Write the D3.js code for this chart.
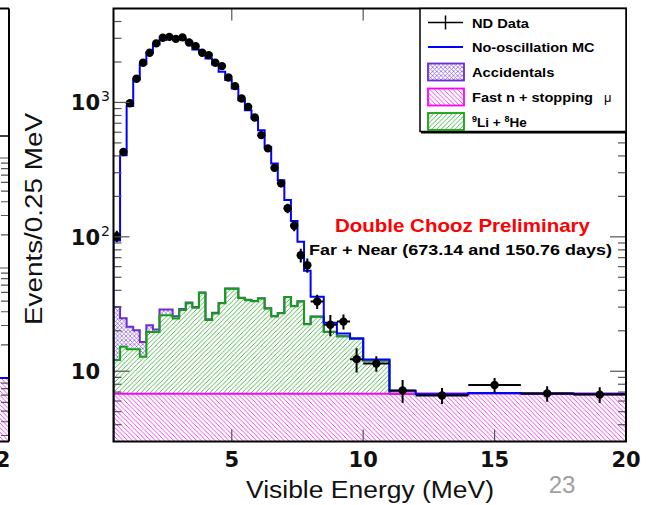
<!DOCTYPE html>
<html><head><meta charset="utf-8">
<script src="https://cdn.jsdelivr.net/npm/d3@7"></script>
<style>body{margin:0;background:#fff} svg{display:block}</style>
</head><body><svg id="c" width="652" height="505"></svg>
<script>
// ---------- data ----------
const binEdges = [0.5,0.75,1,1.25,1.5,1.75,2,2.25,2.5,2.75,3,3.25,3.5,3.75,4,4.25,4.5,4.75,5,5.25,5.5,5.75,6,6.25,6.5,6.75,7,7.25,7.5,7.75,8,8.5,9,9.5,10,11,12,14,16,18,20];
const ndData = [101,428,985,1500,1972,2340,2750,3030,3075,2970,3050,2795,2624,2340,2250,1972,1863,1535,1322,1071,927,773,571,455,326,250,163,121,73,61.5,33,22.2,23.4,12.3,11.4,7.2,6.6,7.9,6.84,6.7];
const ndErr = [10,20,31,39,44,48,52,55,55,55,55,53,51,48,47,44,43,39,36,33,30,28,24,21,18,16,13,11,8.5,7.5,4,4,3,2.5,1.5,1.4,0.9,1.0,0.9,0.9];
const noOscMC = [94,405,940,1483,1920,2356,2704,2910,3030,3050,2970,2825,2480,2356,2125,1918,1690,1466,1271,1040,876,760,622,467,351,264,188,131,92,56,35.8,22.9,19.1,17.5,12.2,7.15,6.75,6.9,6.84,6.75];
const fastN = [6.8,6.8,6.8,6.8,6.8,6.8,6.8,6.8,6.8,6.8,6.8,6.8,6.8,6.8,6.8,6.8,6.8,6.8,6.8,6.8,6.8,6.8,6.8,6.8,6.8,6.8,6.8,6.8,6.8,6.8,6.8,6.8,6.8,6.8,6.8,6.8,6.8,6.85,6.8,6.8];
const liHe = [5.3,8.4,7.8,7.8,6.0,12.8,12.8,19.3,19.3,17.9,21.7,25.2,22.9,31.5,17.3,20.1,25.2,34.2,34.3,28.2,27.0,26.4,28.0,22.5,18.8,20.2,28.8,23.7,26.2,15.6,18.6,12.8,11.4,10.7,5.2,0,0,0,0,0];
const accidentals = [17.9,9.6,6.8,5.6,3.7,2.4,0.8,2.7,2.7,0.9,0.5,0.4,0.4,0.3,0.3,0.3,0.2,0.2,0.2,0.2,0.2,0.1,0.1,0.1,0.1,0.1,0.1,0.1,0.1,0.1,0.1,0.1,0,0,0,0,0,0,0,0];
const xTickValues = [5,10,15,20];
const yTickLabels = [{v:10,base:"10",exp:""},{v:100,base:"10",exp:"2"},{v:1000,base:"10",exp:"3"}];
const legendItems = ["ND Data","No-oscillation MC","Accidentals","Fast n + stopping","Li + He"];

// ---------- setup ----------
const svg = d3.select('#c');
const X0=113.5, X1=626, Y0=8.5, Y1=441.5;
const x = d3.scaleLinear().domain([0.5,20]).range([X0,X1]);
const y = d3.scaleLog().domain([3,5000]).range([Y1,Y0]);
const defs = svg.append('defs');
function hatch(id,color,dirs,s,w){
  const p=defs.append('pattern').attr('id',id).attr('patternUnits','userSpaceOnUse').attr('width',s).attr('height',s);
  let d='';
  if(dirs.includes('/')) d+=`M0,${s} L${s},0 M-1,1 L1,-1 M${s-1},${s+1} L${s+1},${s-1} `;
  if(dirs.includes('\\')) d+=`M0,0 L${s},${s} M-1,${s-1} L1,${s+1} M${s-1},-1 L${s+1},1 `;
  p.append('path').attr('d',d).attr('stroke',color).attr('stroke-width',w).attr('fill','none');
}
hatch('hPink','#f030f0','\\',4.6,0.9);
hatch('hGreen','#3cb03c','/',4.6,0.9);
hatch('hPurple','#8a55e0','/\\',4.2,0.7);
defs.append('clipPath').attr('id','plotClip').append('rect').attr('x',X0).attr('y',Y0).attr('width',X1-X0).attr('height',Y1-Y0);

// stacked table
const rows = binEdges.slice(0,-1).map((e,i)=>({e, fast:fastN[i], li:liHe[i], acc:accidentals[i]}));
const stack = d3.stack().keys(['fast','li','acc'])(rows);
function stepPts(layer){
  const pts = layer.map((d,i)=>({e:binEdges[i], lo:Math.max(d[0],3), hi:Math.max(d[1],3)}));
  const last = pts[pts.length-1];
  pts.push({e:binEdges[binEdges.length-1], lo:last.lo, hi:last.hi});
  return pts;
}
const area = d3.area().x(d=>x(d.e)).y0(d=>y(d.lo)).y1(d=>y(d.hi)).curve(d3.curveStepAfter);
const topLine = d3.line().x(d=>x(d.e)).y(d=>y(d.hi)).curve(d3.curveStepAfter);

const plot = svg.append('g').attr('clip-path','url(#plotClip)');
const layers = [
  {pts:stepPts(stack[0]), fill:'url(#hPink)', stroke:'#ff00ff'},
  {pts:stepPts(stack[1]), fill:'url(#hGreen)', stroke:'#14a014'},
  {pts:stepPts(stack[2]), fill:'url(#hPurple)', stroke:'#6a2fcc'}
];
layers.forEach(l=>plot.append('path').attr('d',area(l.pts)).attr('fill',l.fill).attr('stroke','none'));
[layers[2],layers[1],layers[0]].forEach(l=>plot.append('path').attr('d',topLine(l.pts)).attr('fill','none').attr('stroke',l.stroke).attr('stroke-width',2));

// MC line
const mcPts = [{e:0.5,v:3}].concat(noOscMC.map((v,i)=>({e:binEdges[i],v}))).concat([{e:20,v:noOscMC[noOscMC.length-1]}]);
plot.append('path').attr('d',d3.line().x(d=>x(d.e)).y(d=>y(d.v)).curve(d3.curveStepAfter)(mcPts))
  .attr('fill','none').attr('stroke','#0000ff').attr('stroke-width',2);

// data
const pts = ndData.map((v,i)=>({lo:binEdges[i], hi:binEdges[i+1], c:(binEdges[i]+binEdges[i+1])/2, v, err:ndErr[i]}));
const dg = plot.append('g');
dg.selectAll('line.h').data(pts).join('line').attr('x1',d=>x(d.lo)).attr('x2',d=>x(d.hi)).attr('y1',d=>y(d.v)).attr('y2',d=>y(d.v)).attr('stroke','#000').attr('stroke-width',2);
dg.selectAll('line.v').data(pts).join('line').attr('x1',d=>x(d.c)).attr('x2',d=>x(d.c)).attr('y1',d=>y(d.v+d.err)).attr('y2',d=>y(Math.max(d.v-d.err,3.01))).attr('stroke','#000').attr('stroke-width',2);
dg.selectAll('circle').data(pts).join('circle').attr('cx',d=>x(d.c)).attr('cy',d=>y(d.v)).attr('r',4.2).attr('fill','#000');

// axes ticks
const tickCol='#555';
const yt = y.ticks().filter(v=>v<5000 && v>3);
yt.forEach(v=>{
  const major = Math.abs(Math.log10(v)-Math.round(Math.log10(v)))<1e-9;
  const L = major?16:8;
  svg.append('line').attr('x1',X0).attr('x2',X0+L).attr('y1',y(v)).attr('y2',y(v)).attr('stroke',tickCol).attr('stroke-width',1.2);
  svg.append('line').attr('x1',X1-L).attr('x2',X1).attr('y1',y(v)).attr('y2',y(v)).attr('stroke',tickCol).attr('stroke-width',1.2);
});
xTickValues.forEach(v=>{
  svg.append('line').attr('x1',x(v)).attr('x2',x(v)).attr('y1',Y1).attr('y2',Y1-12).attr('stroke',tickCol).attr('stroke-width',1.2);
  svg.append('line').attr('x1',x(v)).attr('x2',x(v)).attr('y1',Y0).attr('y2',Y0+12).attr('stroke',tickCol).attr('stroke-width',1.2);
});
// frame
svg.append('rect').attr('x',X0).attr('y',Y0).attr('width',X1-X0).attr('height',Y1-Y0).attr('fill','none').attr('stroke','#000').attr('stroke-width',2);

// tick labels
const tf = "'DejaVu Sans', sans-serif";
xTickValues.forEach(v=>{
  svg.append('text').attr('x',x(v)).attr('y',467).attr('text-anchor','middle').attr('font-family',tf).attr('font-weight','bold').attr('font-size',21).attr('fill','#111').text(v);
});
yTickLabels.forEach(t=>{
  svg.append('text').attr('x',100).attr('y',y(t.v)+8).attr('text-anchor','end').attr('font-family',tf).attr('font-weight','bold').attr('font-size',21).attr('fill','#111').text(t.base);
  if(t.exp) svg.append('text').attr('x',101).attr('y',y(t.v)-1).attr('font-family',tf).attr('font-size',14).attr('fill','#111').text(t.exp);
});

// titles
const af = "'Liberation Sans', Arial, sans-serif";
svg.append('text').attr('transform','translate(42,219) rotate(-90)').attr('text-anchor','middle').attr('font-family',af).attr('font-size',23)
  .attr('textLength',212).attr('lengthAdjust','spacingAndGlyphs').attr('fill','#111').text('Events/0.25 MeV');
svg.append('text').attr('x',370).attr('y',498).attr('text-anchor','middle').attr('font-family',af).attr('font-size',23)
  .attr('textLength',248).attr('lengthAdjust','spacingAndGlyphs').attr('fill','#111').text('Visible Energy (MeV)');
svg.append('text').attr('x',562).attr('y',493).attr('text-anchor','middle').attr('font-family',af).attr('font-size',24).attr('fill','#a0a0a0').text('23');

// annotations
svg.append('text').attr('x',335).attr('y',231.5).attr('font-family',af).attr('font-weight','bold').attr('font-size',18.5).attr('fill','#ff0000')
  .attr('textLength',255).attr('lengthAdjust','spacingAndGlyphs').text('Double Chooz Preliminary');
svg.append('text').attr('x',309).attr('y',255).attr('font-family',af).attr('font-weight','bold').attr('font-size',15.4).attr('fill','#000')
  .attr('textLength',303).attr('lengthAdjust','spacingAndGlyphs').text('Far + Near (673.14 and 150.76 days)');

// legend
const lg = svg.append('g');
lg.append('rect').attr('x',420).attr('y',Y0).attr('width',X1-420).attr('height',123).attr('fill','#fff').attr('stroke','#000').attr('stroke-width',1.5);
lg.append('line').attr('x1',421).attr('x2',X1).attr('y1',Y0+124).attr('y2',Y0+124).attr('stroke','#000').attr('stroke-width',2);
const rowY = [22.5,47,72,97,121.5];
lg.append('line').attr('x1',428).attr('x2',463).attr('y1',rowY[0]).attr('y2',rowY[0]).attr('stroke','#000').attr('stroke-width',1.5);
lg.append('line').attr('x1',445.5).attr('x2',445.5).attr('y1',rowY[0]-7).attr('y2',rowY[0]+7).attr('stroke','#000').attr('stroke-width',1.5);
lg.append('line').attr('x1',428).attr('x2',463).attr('y1',rowY[1]).attr('y2',rowY[1]).attr('stroke','#0000ff').attr('stroke-width',2);
[[2,'url(#hPurple)','#6a2fcc'],[3,'url(#hPink)','#ff00ff'],[4,'url(#hGreen)','#14a014']].forEach(([i,f,s])=>{
  lg.append('rect').attr('x',428).attr('y',rowY[i]-8.5).attr('width',36).attr('height',17).attr('fill',f).attr('stroke',s).attr('stroke-width',1.8);
});
const lw = [57,122.6,82.3,121];
legendItems.forEach((t,i)=>{
  const el = lg.append('text').attr('x',472).attr('y',rowY[i]+5).attr('font-family',af).attr('font-weight','bold').attr('font-size',13.5).attr('fill','#000');
  if(i<4){ el.text(t).attr('textLength',lw[i]).attr('lengthAdjust','spacingAndGlyphs'); }
  else {
    el.append('tspan').attr('font-size',9).attr('dy',-5).text('9');
    el.append('tspan').attr('dy',5).text('Li + ');
    el.append('tspan').attr('font-size',9).attr('dy',-5).text('8');
    el.append('tspan').attr('dy',5).text('He');
  }
});
lg.append('text').attr('x',604).attr('y',rowY[3]+5).attr('font-family',af).attr('font-size',13).attr('fill','#000').text('\u03bc');

// left neighbouring panel (cut off at slide edge)
const lp = svg.append('g');
const yl = d3.scaleLog().domain([0.3,2000]).range([378+110*Math.log10(1/0.3), 378-110*Math.log10(2000)]);
defs.append('clipPath').attr('id','lpClip').append('rect').attr('x',0).attr('y',136).attr('width',9).attr('height',Y1-136);
const lpg = lp.append('g').attr('clip-path','url(#lpClip)');
lpg.append('rect').attr('x',0).attr('y',yl(1)).attr('width',9).attr('height',Y1-yl(1)).attr('fill','url(#hPink)');
yl.ticks().filter(v=>yl(v)>140 && yl(v)<Y1).forEach(v=>{
  const major = Math.abs(Math.log10(v)-Math.round(Math.log10(v)))<1e-9;
  lpg.append('line').attr('x1',9-(major?16:8)).attr('x2',9).attr('y1',yl(v)).attr('y2',yl(v)).attr('stroke',tickCol).attr('stroke-width',1.2);
});
lpg.append('line').attr('x1',0).attr('x2',9).attr('y1',yl(1)).attr('y2',yl(1)).attr('stroke','#0000ff').attr('stroke-width',2);
lp.append('line').attr('x1',9).attr('x2',9).attr('y1',Y0).attr('y2',Y1).attr('stroke','#000').attr('stroke-width',2);
lp.append('line').attr('x1',0).attr('x2',9).attr('y1',Y0).attr('y2',Y0).attr('stroke','#000').attr('stroke-width',2);
lp.append('line').attr('x1',0).attr('x2',9).attr('y1',Y1).attr('y2',Y1).attr('stroke','#000').attr('stroke-width',2);
lp.append('line').attr('x1',0).attr('x2',9).attr('y1',136).attr('y2',136).attr('stroke','#000').attr('stroke-width',1.5);
svg.append('text').attr('x',3).attr('y',467).attr('text-anchor','middle').attr('font-family',tf).attr('font-weight','bold').attr('font-size',21).attr('fill','#111').text('2');
</script></body></html>
